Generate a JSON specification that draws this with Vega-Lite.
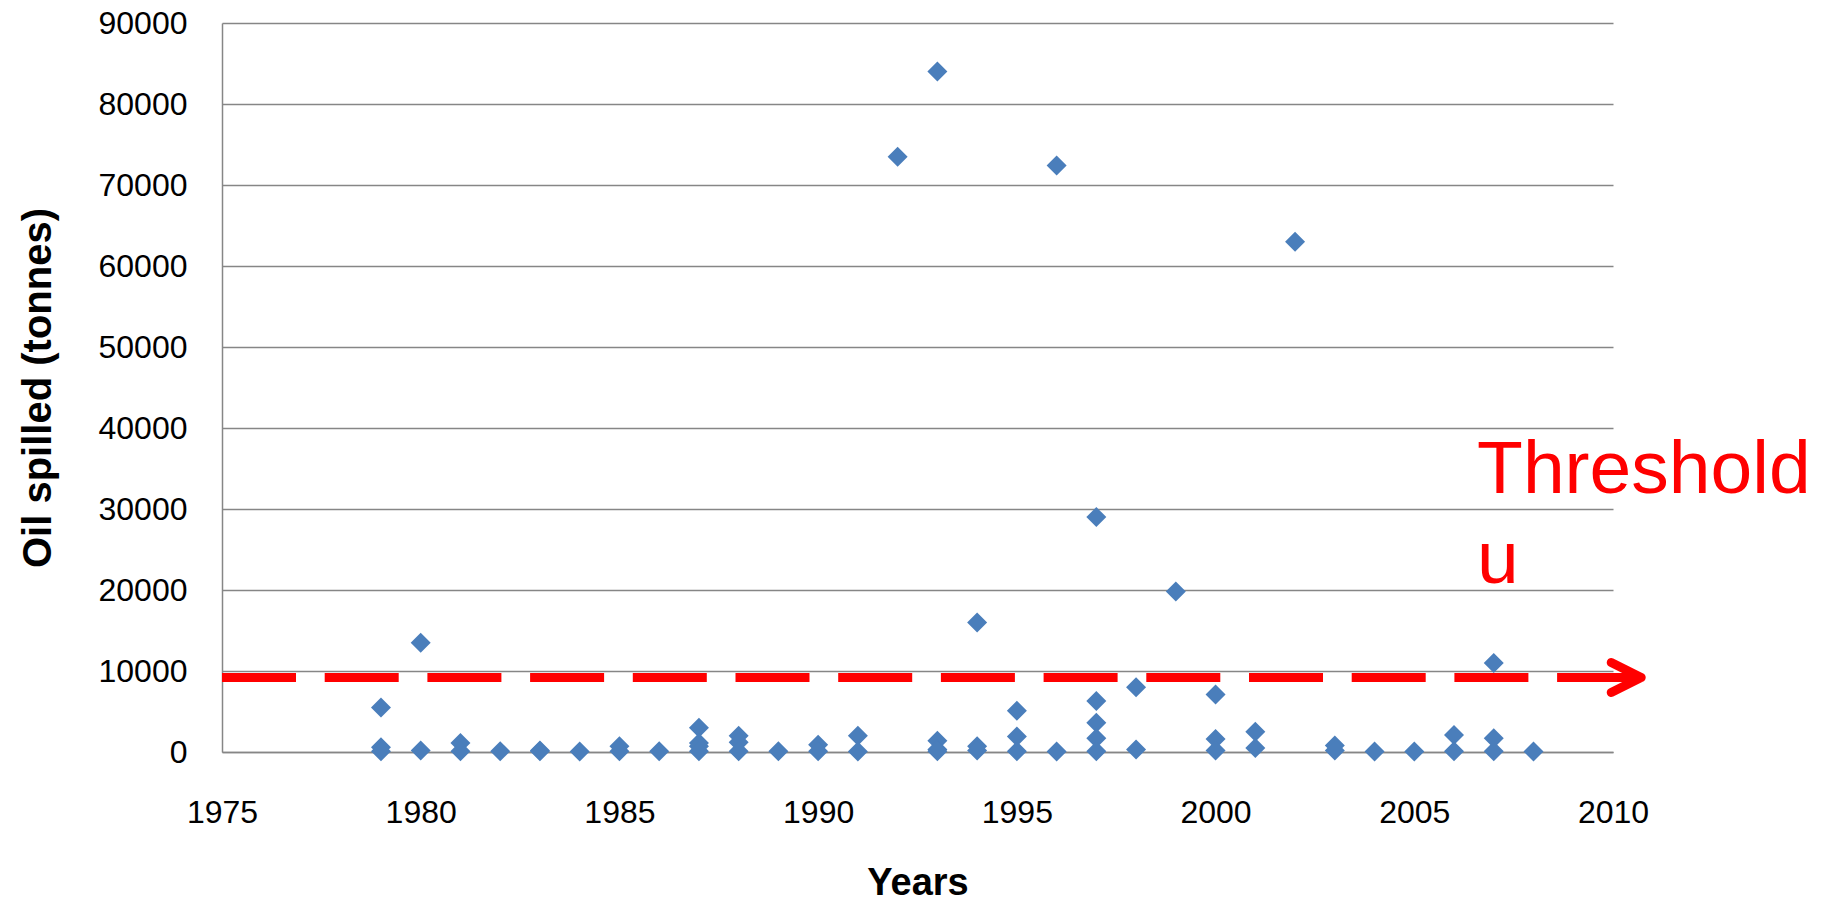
{
  "$schema": "https://vega.github.io/schema/vega-lite/v6.json",
  "width": 1391,
  "height": 729,
  "autosize": {"type": "none"},
  "padding": {"left": 222, "top": 23, "right": 212, "bottom": 152},
  "background": "white",
  "config": {"view": {"stroke": null}, "font": "Liberation Sans"},
  "datasets": {
    "spills": [
      {"year": 1979, "tonnes": 5500}, {"year": 1979, "tonnes": 600}, {"year": 1979, "tonnes": 100},
      {"year": 1980, "tonnes": 13500}, {"year": 1980, "tonnes": 200},
      {"year": 1981, "tonnes": 1100}, {"year": 1981, "tonnes": 100},
      {"year": 1982, "tonnes": 100},
      {"year": 1983, "tonnes": 200}, {"year": 1983, "tonnes": 100},
      {"year": 1984, "tonnes": 50},
      {"year": 1985, "tonnes": 700}, {"year": 1985, "tonnes": 100},
      {"year": 1986, "tonnes": 100},
      {"year": 1987, "tonnes": 3000}, {"year": 1987, "tonnes": 1100}, {"year": 1987, "tonnes": 700}, {"year": 1987, "tonnes": 100},
      {"year": 1988, "tonnes": 2000}, {"year": 1988, "tonnes": 1200}, {"year": 1988, "tonnes": 100},
      {"year": 1989, "tonnes": 100},
      {"year": 1990, "tonnes": 900}, {"year": 1990, "tonnes": 100},
      {"year": 1991, "tonnes": 2000}, {"year": 1991, "tonnes": 50},
      {"year": 1992, "tonnes": 73500},
      {"year": 1993, "tonnes": 84000}, {"year": 1993, "tonnes": 1400}, {"year": 1993, "tonnes": 300}, {"year": 1993, "tonnes": 100},
      {"year": 1994, "tonnes": 16000}, {"year": 1994, "tonnes": 700}, {"year": 1994, "tonnes": 200},
      {"year": 1995, "tonnes": 5100}, {"year": 1995, "tonnes": 1900}, {"year": 1995, "tonnes": 100},
      {"year": 1996, "tonnes": 72400}, {"year": 1996, "tonnes": 50},
      {"year": 1997, "tonnes": 29000}, {"year": 1997, "tonnes": 6300}, {"year": 1997, "tonnes": 3600}, {"year": 1997, "tonnes": 1700}, {"year": 1997, "tonnes": 100},
      {"year": 1998, "tonnes": 8000}, {"year": 1998, "tonnes": 300},
      {"year": 1999, "tonnes": 19800},
      {"year": 2000, "tonnes": 7100}, {"year": 2000, "tonnes": 1600}, {"year": 2000, "tonnes": 200},
      {"year": 2001, "tonnes": 2500}, {"year": 2001, "tonnes": 500},
      {"year": 2002, "tonnes": 63000},
      {"year": 2003, "tonnes": 800}, {"year": 2003, "tonnes": 200},
      {"year": 2004, "tonnes": 50},
      {"year": 2005, "tonnes": 50},
      {"year": 2006, "tonnes": 2100}, {"year": 2006, "tonnes": 100},
      {"year": 2007, "tonnes": 11000}, {"year": 2007, "tonnes": 1700}, {"year": 2007, "tonnes": 100},
      {"year": 2008, "tonnes": 50}
    ],
    "threshold": [
      {"u": 9200, "start": 1975, "end": 2010.71, "label": "Threshold\nu"}
    ]
  },
  "layer": [
    {
      "data": {"name": "spills"},
      "mark": {"type": "point", "shape": "diamond", "filled": true, "size": 400, "color": "#4a7ebb", "opacity": 1},
      "encoding": {
        "x": {
          "field": "year", "type": "quantitative",
          "scale": {"domain": [1975, 2010], "nice": false, "zero": false},
          "axis": {
            "values": [1975, 1980, 1985, 1990, 1995, 2000, 2005, 2010],
            "format": "d", "grid": false, "ticks": false,
            "domain": true, "domainColor": "#868686", "domainWidth": 1.5,
            "labelFontSize": 32, "labelColor": "#000000", "labelPadding": 45,
            "labelFlush": false, "labelOverlap": false,
            "title": "Years", "titleFontSize": 38, "titleFontWeight": "bold",
            "titleColor": "#000000", "titlePadding": 36
          }
        },
        "y": {
          "field": "tonnes", "type": "quantitative",
          "scale": {"domain": [0, 90000], "nice": false},
          "axis": {
            "values": [0, 10000, 20000, 30000, 40000, 50000, 60000, 70000, 80000, 90000],
            "format": "d", "grid": true, "gridColor": "#868686", "gridWidth": 1.5,
            "ticks": false, "domain": true, "domainColor": "#868686", "domainWidth": 1.5,
            "labelFontSize": 32, "labelColor": "#000000", "labelPadding": 35,
            "labelFlush": false, "labelOverlap": false,
            "title": "Oil spilled (tonnes)", "titleFontSize": 40, "titleFontWeight": "bold",
            "titleColor": "#000000", "titlePadding": 40
          }
        }
      }
    },
    {
      "data": {"name": "threshold"},
      "mark": {"type": "rule", "color": "#ff0000", "strokeWidth": 9, "strokeDash": [74, 28.7], "strokeCap": "butt"},
      "encoding": {
        "x": {"field": "start", "type": "quantitative"},
        "x2": {"field": "end"},
        "y": {"field": "u", "type": "quantitative"}
      }
    },
    {
      "data": {"name": "threshold"},
      "mark": {"type": "point", "shape": "M-1,-0.5L0,0L-1,0.5M-1.4,0L0,0", "filled": false, "size": 3600, "color": "#ff0000", "strokeWidth": 9, "strokeCap": "round", "strokeJoin": "round", "opacity": 1},
      "encoding": {
        "x": {"field": "end", "type": "quantitative"},
        "y": {"field": "u", "type": "quantitative"}
      }
    },
    {
      "data": {"name": "threshold"},
      "mark": {"type": "text", "font": "Liberation Sans", "fontSize": 75, "color": "#ff0000", "align": "left", "baseline": "alphabetic", "lineBreak": "\n", "lineHeight": 90},
      "encoding": {
        "text": {"field": "label"},
        "x": {"datum": 2006.58},
        "y": {"datum": 32000}
      }
    }
  ]
}
